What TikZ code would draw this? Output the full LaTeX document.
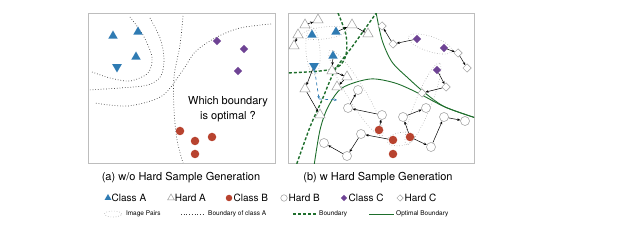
\documentclass[tikz,border=0pt]{standalone}
\usepackage{fontspec}
\setmainfont{TeX Gyre Heros}
\usetikzlibrary{shapes.geometric}
\usetikzlibrary{arrows.meta}
\usetikzlibrary{positioning}

\definecolor{clsblue}{HTML}{2F7BB3}
\definecolor{clsred}{HTML}{B8432F}
\definecolor{clspurple}{HTML}{6E4394}
\definecolor{bndgreen}{HTML}{1E6E2C}
\definecolor{framegray}{HTML}{BDBDBD}
\definecolor{hardgray}{HTML}{9A9A9A}
\definecolor{pairgray}{HTML}{A8A8A8}

\begin{document}
\begin{tikzpicture}[x=1pt,y=-1pt,
    font=\fontsize{11}{15}\selectfont,
    clsA/.style={regular polygon,regular polygon sides=3,fill=clsblue,minimum size=11pt,inner sep=0pt},
    hardA/.style={regular polygon,regular polygon sides=3,draw=hardgray,fill=white,minimum size=12pt,inner sep=0pt,line width=0.5pt},
    clsB/.style={circle,fill=clsred,minimum size=8.5pt,inner sep=0pt},
    hardB/.style={circle,draw=hardgray,fill=white,minimum size=9pt,inner sep=0pt,line width=0.5pt},
    clsC/.style={diamond,fill=clspurple,minimum size=8.5pt,inner sep=0pt},
    hardC/.style={diamond,draw=hardgray,fill=white,minimum size=8.5pt,inner sep=0pt,line width=0.5pt},
    pair/.style={ellipse,draw=pairgray,dotted,line width=0.6pt,inner sep=0pt},
    gen/.style={-{Stealth[length=3pt,width=2.6pt]},line width=0.5pt},
    gendash/.style={-{Stealth[length=3pt,width=2.6pt]},clsblue,dashed,line width=0.7pt},
    bndA/.style={dotted,line width=0.7pt,black!75},
    bnd/.style={bndgreen,line width=1.4pt,dash pattern=on 3pt off 2pt},
    optbnd/.style={bndgreen,line width=0.9pt},
    frame/.style={draw=framegray,line width=1pt},
    keytext/.style={inner sep=0pt,font=\fontsize{10}{12}\selectfont},
    smalltext/.style={inner sep=0pt,font=\fontsize{6.5}{8}\selectfont}]
    \useasboundingbox (0,0) rectangle (640,240);

    % panels
    \draw[frame] (88,14) rectangle (275,164);
    \draw[frame] (288,14) rectangle (474,164);

    % (a) boundaries of class A
    \draw[bndA] plot[smooth] coordinates {(130,17) (143,35) (152,57) (148,73) (130,81) (110,78) (92,72)};
    \draw[bndA] plot[smooth] coordinates {(150,18) (160,38) (164,58) (161,76) (148,85) (120,88) (88,90)};
    \draw[bndA] plot[smooth] coordinates {(183,16) (180,45) (174,77) (174,110) (177,140) (183,163)};
    \draw[bndA] plot[smooth] coordinates {(271,24) (240,28) (215,38) (195,52) (183,70) (162,96) (128,106) (95,103)};

    % (a) samples
    \node[clsA] (aA1) at (113,36) {};
    \node[clsA] (aA2) at (138,32) {};
    \node[clsA] (aA3) at (136,57) {};
    \node[clsA,shape border rotate=180] (aA4) at (117,67) {};
    \node[clsC] (aC1) at (217,41) {};
    \node[clsC] (aC2) at (244,49) {};
    \node[clsC] (aC3) at (238,71) {};
    \node[clsB] (aB1) at (180,131) {};
    \node[clsB] (aB2) at (195,141) {};
    \node[clsB] (aB3) at (212,137) {};
    \node[clsB] (aB4) at (195,154) {};
    \node[align=center,inner sep=0pt] (question) at (228,109) {Which boundary\\is optimal ?};

    % (b) boundaries
    \begin{scope}
        \clip (288,14) rectangle (474,164);
        \draw[bnd] plot[smooth] coordinates {(338,13) (346,35) (346,55) (338,67) (320,71) (287,73)};
        \draw[bnd] plot[smooth] coordinates {(377,12) (352,47) (335,70) (322,100) (310,127) (296,166)};
        \draw[optbnd] plot[smooth] coordinates {(376,12) (382,40) (392,62) (408,78) (425,93) (445,107) (476,118)};
        \draw[optbnd] plot[smooth] coordinates {(314,166) (320,130) (328,107) (342,88) (370,79) (395,83) (418,93) (445,107) (476,118)};
    \end{scope}

    % (b) image pairs
    \node[pair,minimum width=46pt,minimum height=12pt,rotate=7] (p1) at (324,33) {};
    \node[pair,minimum width=48pt,minimum height=14pt,rotate=-86] (p2) at (313,51) {};
    \node[pair,minimum width=100pt,minimum height=18pt,rotate=-58.5] (p3) at (356,93) {};
    \node[pair,minimum width=46pt,minimum height=15pt,rotate=-18] (p4) at (430,44) {};
    \node[pair,minimum width=88pt,minimum height=16pt,rotate=68] (p5) at (423,104) {};
    \node[pair,minimum width=28pt,minimum height=13pt,rotate=10] (p6) at (401,139) {};

    % (b) class A and hard A
    \node[hardA] (hA1) at (318,20) {};
    \node[hardA] (hA2) at (305,25) {};
    \node[hardA] (hA3) at (298,35) {};
    \node[hardA] (hA4) at (294,46) {};
    \node[hardA] (hA5) at (352,25) {};
    \node[hardA] (hA6) at (368,34) {};
    \node[hardA] (hA7) at (332,71) {};
    \node[hardA] (hA8) at (347,77) {};
    \node[hardA] (hA9) at (337,87) {};
    \node[hardA] (hA10) at (305,89) {};
    \node[hardA] (hA11) at (320,115) {};
    \node[clsA] (A1) at (312,35) {};
    \node[clsA] (A2) at (336,32) {};
    \node[clsA] (A3) at (333,56) {};
    \node[clsA,shape border rotate=180] (A4) at (314,66) {};
    \coordinate (dA) at (319,99);
    \coordinate (dB) at (337,100);

    % (b) class B and hard B
    \node[hardB] (hB1) at (382,115) {};
    \node[hardB] (hB2) at (348,108) {};
    \node[hardB] (hB3) at (358,90) {};
    \node[hardB] (hB4) at (361,134) {};
    \node[hardB] (hB5) at (347,156) {};
    \node[hardB] (hB6) at (324,143) {};
    \node[hardB] (hB7) at (403,117) {};
    \node[hardB] (hB8) at (426,108) {};
    \node[hardB] (hB9) at (431,147) {};
    \node[hardB] (hB10) at (444,117) {};
    \node[hardB] (hB11) at (465,121) {};
    \node[clsB] (B1) at (379,130) {};
    \node[clsB] (B2) at (393,140) {};
    \node[clsB] (B3) at (410,137) {};
    \node[clsB] (B4) at (393,154) {};

    % (b) class C and hard C
    \node[hardC] (hC1) at (393,44) {};
    \node[hardC] (hC2) at (382,26) {};
    \node[hardC] (hC3) at (458,53) {};
    \node[hardC] (hC4) at (467,68) {};
    \node[hardC] (hC5) at (446,87) {};
    \node[hardC] (hC6) at (422,93) {};
    \node[clsC] (C1) at (417,39) {};
    \node[clsC] (C2) at (444,48) {};
    \node[clsC] (C3) at (437,70) {};

    % generation steps
    \draw[gen] (hA2) -- (hA1);
    \draw[gen] (hA3) -- (hA4);
    \draw[gen] (A2) -- (hA5);
    \draw[gen] (hA5) -- (hA6);
    \draw[gen] (A3) -- (hA7);
    \draw[gen] (hA7) -- (hA8);
    \draw[gen] (hA8) -- (hA9);
    \draw[gen] (A4) -- (hA10);
    \draw[gen] (hA10) -- (hA11);
    \draw[gendash] (A4) -- (dA);
    \draw[gendash] (dA) -- (dB);
    \draw[gen] (B1) -- (hB1);
    \draw[gen] (hB1) -- (hB2);
    \draw[gen] (hB2) -- (hB3);
    \draw[gen] (B2) -- (hB4);
    \draw[gen] (hB4) -- (hB5);
    \draw[gen] (hB5) -- (hB6);
    \draw[gen] (B3) -- (hB7);
    \draw[gen] (hB7) -- (hB8);
    \draw[gen] (B3) -- (hB9);
    \draw[gen] (hB9) -- (hB10);
    \draw[gen] (hB10) -- (hB11);
    \draw[gen] (C1) -- (hC1);
    \draw[gen] (hC1) -- (hC2);
    \draw[gen] (C2) -- (hC3);
    \draw[gen] (hC3) -- (hC4);
    \draw[gen] (C3) -- (hC5);
    \draw[gen] (hC5) -- (hC6);

    % captions
    \node (capa) at (181,178) {(a) w/o Hard Sample Generation};
    \node (capb) at (378,178) {(b) w Hard Sample Generation};

    % legend
    \node[clsA,minimum size=8pt] (kA) at (108,198) {};
    \node[keytext,right=1pt of kA] (kAt) {Class A};
    \node[hardA,minimum size=8pt] (khA) at (171,198) {};
    \node[keytext,right=1pt of khA] (khAt) {Hard A};
    \node[clsB,minimum size=6.5pt] (kB) at (229,198) {};
    \node[keytext,right=1pt of kB] (kBt) {Class B};
    \node[hardB,minimum size=6.5pt] (khB) at (284,198) {};
    \node[keytext,right=1pt of khB] (khBt) {Hard B};
    \node[clsC,minimum size=6.5pt] (kC) at (344,198) {};
    \node[keytext,right=1pt of kC] (kCt) {Class C};
    \node[hardC,minimum size=6.5pt] (khC) at (400,198) {};
    \node[keytext,right=1pt of khC] (khCt) {Hard C};

    \node[pair,minimum width=17pt,minimum height=6pt] (kP) at (113,214) {};
    \node[smalltext,right=4pt of kP] (kPt) {Image Pairs};
    \coordinate (kd1) at (181,214);
    \coordinate (kd2) at (203,214);
    \draw[bndA] (kd1) -- (kd2);
    \node[smalltext,right=5pt of kd2] (kdt) {Boundary of class A};
    \coordinate (kb1) at (293,214);
    \coordinate (kb2) at (316,214);
    \draw[bnd] (kb1) -- (kb2);
    \node[smalltext,right=3pt of kb2] (kbt) {Boundary};
    \coordinate (ko1) at (369,214);
    \coordinate (ko2) at (394,214);
    \draw[optbnd] (ko1) -- (ko2);
    \node[smalltext,right=2pt of ko2] (kot) {Optimal Boundary};
\end{tikzpicture}
\end{document}
